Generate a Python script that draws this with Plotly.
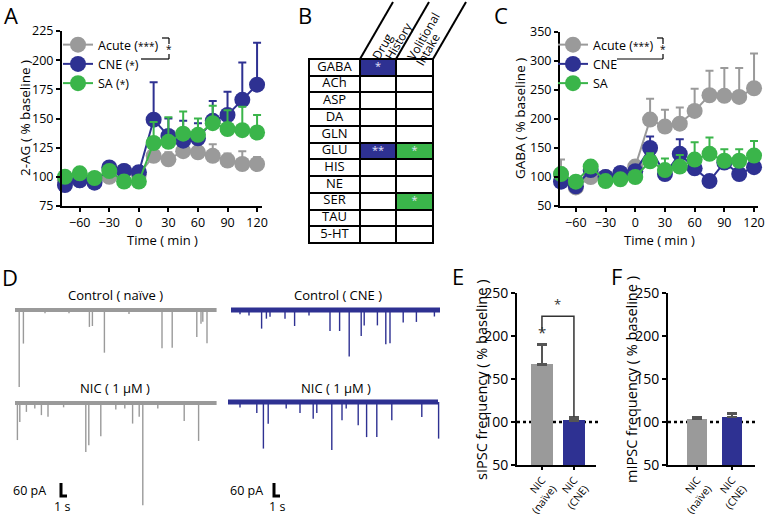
import plotly.graph_objects as go

W, H = 765, 516
FONT = "Open Sans"
GRAY = "#9a9a9a"
BLUE = "#2e3192"
GREEN = "#3ab54a"

def fx(px):
    return px / W

def fy(py):
    return 1 - py / H

# ---------------- data ----------------
time_min = [-75, -60, -45, -30, -15, 0, 15, 30, 45, 60, 75, 90, 105, 120]

# Panel A: 2-AG (% baseline)
ag_acute = [97, 97, 97, 100, 105, 102, 118, 115, 122, 121, 118, 114, 111, 111]
ag_acute_err = [3, 3, 3, 3, 4, 3, 9, 6, 6, 6, 10, 6, 11, 6]
ag_cne = [93, 97, 95, 108, 105, 104, 149, 135, 131, 133, 148, 153, 166, 179]
ag_cne_err = [3, 4, 3, 4, 5, 5, 32, 15, 17, 13, 17, 20, 32, 36]
ag_sa = [100, 103, 99, 105, 96, 96, 129, 130, 137, 136, 146, 141, 140, 138]
ag_sa_err = [3, 3, 3, 3, 3, 3, 18, 21, 19, 14, 15, 16, 20, 15]

# Panel C: GABA (% baseline)
gaba_acute = [105, 82, 100, 100, 105, 118, 199, 187, 192, 214, 241, 240, 238, 253]
gaba_acute_err = [25, 4, 4, 4, 4, 10, 36, 29, 28, 38, 42, 48, 50, 60]
gaba_cne = [92, 84, 112, 100, 107, 110, 150, 105, 140, 115, 93, 125, 105, 117]
gaba_cne_err = [5, 5, 6, 6, 6, 6, 20, 10, 25, 12, 8, 10, 8, 10]
gaba_sa = [105, 92, 118, 93, 96, 100, 127, 112, 118, 130, 140, 128, 128, 137]
gaba_sa_err = [4, 4, 5, 4, 4, 5, 14, 20, 20, 30, 28, 20, 20, 25]

# Panel B: significance table
analytes = ["GABA", "ACh", "ASP", "DA", "GLN", "GLU", "HIS", "NE", "SER", "TAU", "5-HT"]
drug_history = ["*", "", "", "", "", "**", "", "", "", "", ""]
volitional_intake = ["", "", "", "", "", "*", "", "", "*", "", ""]
header_words = [["Drug", "History"], ["Volitional", "Intake"]]

# Panel D: example traces (event time in s, amplitude in pA)
naive_ctrl_t = [0.7, 1.4, 5.0, 9.0, 12.4, 12.9, 14.9, 19.0, 24.5, 26.2, 30.3, 31.0, 31.3, 32.0]
naive_ctrl_a = [355, 155, 15, 15, 78, 74, 197, 18, 177, 174, 125, 63, 54, 154]
naive_nic_t = [0.4, 0.8, 1.9, 3.3, 4.4, 5.5, 8.1, 11.8, 12.3, 14.3, 16.8, 18.3, 19.6, 20.7, 21.3, 23.8, 28.2, 30.6]
naive_nic_a = [171, 88, 41, 25, 56, 64, 20, 226, 195, 153, 30, 25, 95, 64, 472, 25, 83, 175]
cne_ctrl_t = [1.5, 3.0, 5.1, 5.9, 6.5, 9.0, 10.6, 13.0, 16.5, 18.1, 19.7, 21.7, 22.2, 24.4, 25.8, 26.5, 28.7, 30.9, 33.9]
cne_ctrl_a = [20, 25, 86, 40, 31, 40, 74, 25, 97, 97, 215, 120, 71, 71, 158, 154, 58, 55, 30]
cne_nic_t = [2.0, 4.8, 5.9, 6.7, 9.7, 12.0, 14.2, 14.8, 17.3, 19.0, 19.7, 21.7, 23.1, 24.8, 27.3, 32.3, 35.1]
cne_nic_a = [25, 51, 215, 100, 30, 51, 77, 51, 222, 84, 30, 107, 162, 162, 84, 69, 169]
trace_dur_naive = 33.6
trace_dur_cne = 35.0
scale_pa = 60
scale_s = 1

# Panels E / F
bar_labels = ["NIC<br>(naïve)", "NIC<br>(CNE)"]
sipsc = [167, 102]
sipsc_err = [23, 3]
mipsc = [104, 106]
mipsc_err = [1.5, 4]

STAR = "<span style='font-size:10px'>{}</span>"

# ---------------- figure ----------------
fig = go.Figure()

def series(x, y, err, color, name, xa, ya, legend, showleg=True):
    fig.add_trace(go.Scatter(
        x=x, y=y, mode="lines+markers", name=name,
        line=dict(color=color, width=2),
        marker=dict(color=color, size=16),
        error_y=dict(type="data", symmetric=False, array=err, arrayminus=[0] * len(err),
                     color=color, thickness=2, width=4),
        xaxis=xa, yaxis=ya, legend=legend, showlegend=showleg, cliponaxis=False,
        hoverinfo="skip"))

series(time_min, ag_acute, ag_acute_err, GRAY, "Acute (" + STAR.format("***") + ")", "x", "y", "legend")
series(time_min, ag_cne, ag_cne_err, BLUE, "CNE (" + STAR.format("*") + ")", "x", "y", "legend")
series(time_min, ag_sa, ag_sa_err, GREEN, "SA (" + STAR.format("*") + ")", "x", "y", "legend")

series(time_min, gaba_acute, gaba_acute_err, GRAY, "Acute (" + STAR.format("***") + ")", "x3", "y3", "legend2")
series(time_min, gaba_cne, gaba_cne_err, BLUE, "CNE", "x3", "y3", "legend2")
series(time_min, gaba_sa, gaba_sa_err, GREEN, "SA", "x3", "y3", "legend2")

# ---- Panel B table ----
col_edges = [309, 360, 396, 433]
z = []
for dh, vi in zip(drug_history, volitional_intake):
    z.append([0, 1 if dh else 0, 2 if vi else 0])
fig.add_trace(go.Heatmap(
    z=z, x=col_edges, y=list(range(len(analytes))),
    colorscale=[[0, "white"], [0.25, "white"], [0.25, BLUE], [0.75, BLUE], [0.75, GREEN], [1, GREEN]],
    zmin=0, zmax=2, showscale=False, xgap=2, ygap=2, hoverinfo="skip",
    xaxis="x2", yaxis="y2"))
name_cx = (col_edges[0] + col_edges[1]) / 2
fig.add_trace(go.Scatter(
    x=[name_cx] * len(analytes), y=list(range(len(analytes))), mode="text", text=analytes,
    textfont=dict(family=FONT, size=13, color="black"), xaxis="x2", yaxis="y2",
    showlegend=False, hoverinfo="skip"))
star_x, star_y, star_t = [], [], []
for i, (dh, vi) in enumerate(zip(drug_history, volitional_intake)):
    if dh:
        star_x.append((col_edges[1] + col_edges[2]) / 2); star_y.append(i); star_t.append(dh)
    if vi:
        star_x.append((col_edges[2] + col_edges[3]) / 2); star_y.append(i); star_t.append(vi)
fig.add_trace(go.Scatter(
    x=star_x, y=star_y, mode="text", text=star_t,
    textfont=dict(family=FONT, size=11, color="#e6e6ff"), xaxis="x2", yaxis="y2",
    showlegend=False, hoverinfo="skip"))

# ---- Panel D traces ----
D_PX_PER_S = 6.0
D_PX_PER_PA = 13.0 / 60.0

def dx(px):
    return px / D_PX_PER_S

def dy(py):
    return -(py - 270) / D_PX_PER_PA

def add_trace_rec(ts, amps, t0, dur, base, color, bw):
    fig.add_trace(go.Scatter(x=[t0, t0 + dur], y=[base, base], mode="lines",
                             line=dict(color=color, width=bw), xaxis="x4", yaxis="y4",
                             showlegend=False, hoverinfo="skip"))
    xs, ys = [], []
    for t, a in zip(ts, amps):
        xs += [t0 + t, t0 + t, None]
        ys += [base, base - a, None]
    fig.add_trace(go.Scatter(x=xs, y=ys, mode="lines", line=dict(color=color, width=1.4),
                             xaxis="x4", yaxis="y4", showlegend=False, hoverinfo="skip"))

add_trace_rec(naive_ctrl_t, naive_ctrl_a, dx(15), trace_dur_naive, dy(310), GRAY, 4)
add_trace_rec(naive_nic_t, naive_nic_a, dx(15), trace_dur_naive, dy(403), GRAY, 4)
add_trace_rec(cne_ctrl_t, cne_ctrl_a, dx(231), trace_dur_cne, dy(310), BLUE, 5)
add_trace_rec(cne_nic_t, cne_nic_a, dx(228), trace_dur_cne, dy(402), BLUE, 5)

for sx in [dx(61), dx(274)]:
    sb = dy(496)
    fig.add_trace(go.Scatter(x=[sx, sx, sx + scale_s], y=[sb + scale_pa, sb, sb], mode="lines",
                             line=dict(color="black", width=3), xaxis="x4", yaxis="y4",
                             showlegend=False, hoverinfo="skip"))

# ---- Panels E / F bars ----
fig.add_trace(go.Bar(x=[0, 1], y=sipsc, width=0.69, marker=dict(color=[GRAY, BLUE], line=dict(width=0)),
                     error_y=dict(type="data", symmetric=False, array=sipsc_err, arrayminus=[0, 0],
                                  color="#555555", thickness=2.5, width=5),
                     xaxis="x5", yaxis="y5", showlegend=False, hoverinfo="skip", cliponaxis=False))
fig.add_trace(go.Bar(x=[0, 1], y=mipsc, width=0.57, marker=dict(color=[GRAY, BLUE], line=dict(width=0)),
                     error_y=dict(type="data", symmetric=False, array=mipsc_err, arrayminus=[0, 0],
                                  color="#555555", thickness=2.5, width=5),
                     xaxis="x6", yaxis="y6", showlegend=False, hoverinfo="skip", cliponaxis=False))

# ---------------- layout ----------------
axis_common = dict(showline=True, linecolor="black", linewidth=2, ticks="outside", ticklen=4,
                   tickwidth=2, tickcolor="black", showgrid=False, zeroline=False,
                   tickfont=dict(family=FONT, size=12.5, color="black"), fixedrange=True,
                   ticklabeloverflow="allow")
hidden = dict(visible=False, showgrid=False, zeroline=False, fixedrange=True)
bar_xtick = dict(family=FONT, size=10.5, color="black")
bar_ytick = dict(family=FONT, size=14, color="black")

layout = dict(
    width=W, height=H, margin=dict(l=0, r=0, t=0, b=0, pad=0, autoexpand=False), autosize=False,
    paper_bgcolor="white", plot_bgcolor="white",
    font=dict(family=FONT, size=13, color="black"),
    bargap=0,
    xaxis=dict(axis_common, domain=[fx(62), fx(262)], range=[-78, 125], anchor="y",
               tickvals=[-60, -30, 0, 30, 60, 90, 120]),
    yaxis=dict(axis_common, domain=[fy(206), fy(31)], range=[75, 225], anchor="x",
               tickvals=[75, 100, 125, 150, 175, 200, 225]),
    xaxis2=dict(hidden, domain=[fx(300), fx(470)], range=[300, 470], anchor="y2"),
    yaxis2=dict(hidden, domain=[fy(250), 1], range=[10.918, -4.027], anchor="x2"),
    xaxis3=dict(axis_common, domain=[fx(560), fx(758)], range=[-76, 124], anchor="y3",
                tickvals=[-60, -30, 0, 30, 60, 90, 120]),
    yaxis3=dict(axis_common, domain=[fy(206), fy(32)], range=[50, 350], anchor="x3",
                tickvals=[50, 100, 150, 200, 250, 300, 350]),
    xaxis4=dict(hidden, domain=[0, fx(440)], range=[0, dx(440)], anchor="y4"),
    yaxis4=dict(hidden, domain=[0, fy(270)], range=[dy(516), 0], anchor="x4"),
    xaxis5=dict(axis_common, domain=[fx(517), fx(596)], range=[-0.78, 1.69], anchor="y5",
                tickvals=[0, 1], ticktext=bar_labels, tickangle=-52, tickfont=bar_xtick, ticklen=3),
    yaxis5=dict(axis_common, domain=[fy(465), fy(293)], range=[50, 250], anchor="x5",
                tickvals=[50, 100, 150, 200, 250], tickfont=bar_ytick),
    xaxis6=dict(axis_common, domain=[fx(668), fx(755)], range=[-0.83, 1.66], anchor="y6",
                tickvals=[0, 1], ticktext=bar_labels, tickangle=-52, tickfont=bar_xtick, ticklen=3),
    yaxis6=dict(axis_common, domain=[fy(465), fy(293)], range=[50, 250], anchor="x6",
                tickvals=[50, 100, 150, 200, 250], tickfont=bar_ytick),
    legend=dict(x=fx(58), y=fy(30), xanchor="left", yanchor="top", bgcolor="rgba(0,0,0,0)",
                font=dict(family=FONT, size=12.5), tracegroupgap=0, itemclick=False),
    legend2=dict(x=fx(553), y=fy(30), xanchor="left", yanchor="top", bgcolor="rgba(0,0,0,0)",
                 font=dict(family=FONT, size=12.5), tracegroupgap=0, itemclick=False),
)
fig.update_layout(layout)

shapes = []
# table background (grid lines show through the heatmap gaps)
shapes.append(dict(type="rect", xref="x2", yref="y2", x0=col_edges[0] - 1, x1=col_edges[-1] + 1,
                   y0=-0.56, y1=len(analytes) - 0.44, fillcolor="black", line=dict(width=0), layer="below"))
for ex in col_edges[1:]:
    shapes.append(dict(type="line", xref="x2", yref="y2", x0=ex, y0=-0.5, x1=ex + 33, y1=-3.908,
                       line=dict(color="black", width=2)))
# legend brackets
def seg(x0, y0, x1, y1, w=1.2, color="black"):
    shapes.append(dict(type="line", xref="paper", yref="paper", x0=fx(x0), y0=fy(y0), x1=fx(x1), y1=fy(y1),
                       line=dict(color=color, width=w)))
seg(162, 38, 169, 38); seg(169, 38, 169, 44); seg(169, 54, 169, 59); seg(141, 59, 169, 59)
seg(657, 38, 663, 38); seg(663, 38, 663, 44); seg(663, 54, 663, 59); seg(617, 59, 663, 59)
# E bracket
shapes.append(dict(type="path", xref="x5", yref="y5", path="M 0,207 L 0,223 L 1,223 L 1,106",
                   line=dict(color="#333333", width=1.5)))
# dotted baselines
shapes.append(dict(type="line", xref="x5 domain", yref="y5", x0=0, x1=1.05, y0=100, y1=100,
                   line=dict(color="black", width=2.5, dash="dot"), layer="below"))
shapes.append(dict(type="line", xref="x6 domain", yref="y6", x0=0, x1=1.0, y0=100, y1=100,
                   line=dict(color="black", width=2.5, dash="dot"), layer="below"))
fig.update_layout(shapes=shapes)

ann = []
def txt(x, y, s, size=13, angle=0, color="black", xanchor="center", ref="paper"):
    ann.append(dict(x=fx(x), y=fy(y), xref="paper", yref="paper", text=s, showarrow=False,
                    font=dict(family=FONT, size=size, color=color), textangle=angle,
                    xanchor=xanchor, yanchor="middle"))

# panel letters
for L, px, py in [("A", 11, 15), ("B", 305, 15), ("C", 501, 15), ("D", 10, 277), ("E", 458, 276), ("F", 616, 276)]:
    txt(px, py, L, size=22)
# axis titles
txt(25, 118, "2-AG ( % baseline )", size=13.5, angle=-90)
txt(162, 240, "Time ( min )", size=13)
txt(520, 119, "GABA ( % baseline )", size=13.5, angle=-90)
txt(659, 240, "Time ( min )", size=13)
txt(481, 380, "sIPSC frequency ( % baseline )", size=14.5, angle=-90)
txt(631, 380, "mIPSC frequency ( % baseline )", size=14.5, angle=-90)
# legend bracket stars
txt(169, 49, "*", size=10)
txt(663, 49, "*", size=10)
# table header (rotated words)
header_pos = [[(382, 46), (398, 41)], [(423, 36), (428, 50)]]
for words, pos in zip(header_words, header_pos):
    for w, (hx, hy) in zip(words, pos):
        txt(hx, hy, w, size=12, angle=-60)
# trace labels
txt(115, 295, "Control ( naïve )", size=13)
txt(115, 388, "NIC ( 1 µM )", size=13)
txt(338, 295, "Control ( CNE )", size=13)
txt(336, 388, "NIC ( 1 µM )", size=13)
txt(48, 490, "60 pA", size=12.5, xanchor="right")
txt(62, 506, "1 s", size=12.5)
txt(265, 490, "60 pA", size=12.5, xanchor="right")
txt(277, 506, "1 s", size=12.5)
fig.update_layout(annotations=ann)
# E stars (data coords)
fig.add_annotation(x=0.5, y=224, xref="x5", yref="y5", text="*", showarrow=False,
                   font=dict(family=FONT, size=13, color="#333333"), yanchor="bottom")
fig.add_annotation(x=0, y=191, xref="x5", yref="y5", text="*", showarrow=False,
                   font=dict(family=FONT, size=15, color="#333333"), yanchor="bottom")

fig.write_html("out.html", config={"displayModeBar": False},
               post_script="document.body.style.margin='0px';document.body.style.overflow='hidden';")
